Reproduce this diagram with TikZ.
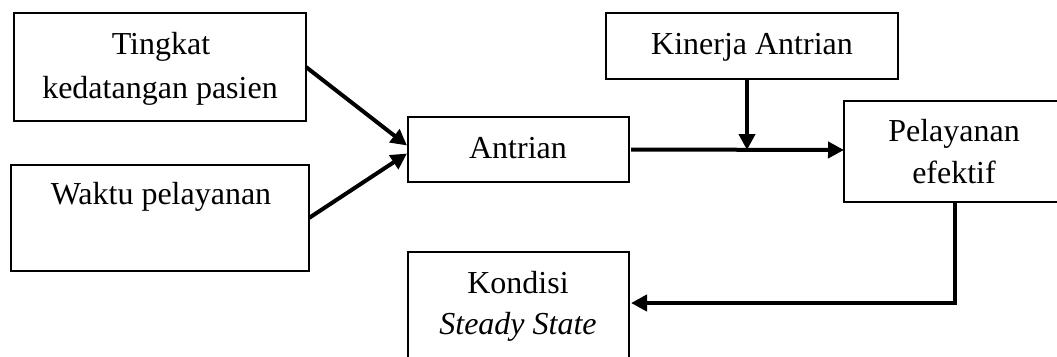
\documentclass[tikz,border=0pt]{standalone}
\usepackage{fontspec}
\setmainfont{Liberation Serif}
\usetikzlibrary{arrows.meta,calc}
\begin{document}
\begin{tikzpicture}[x=1pt,y=-1pt,
  box/.style={draw,line width=1.2pt,inner sep=0pt,outer sep=0pt},
  txt/.style={inner sep=0pt,anchor=base,font=\fontsize{32}{38}\selectfont},
  arr/.style={line width=4pt,-{Triangle[length=16pt,width=16pt]}}]
\useasboundingbox (0,0) rectangle (1057,356);
% boxes
\node[box,minimum width=292pt,minimum height=108pt] (tk) at (160,67) {};
\node[box,minimum width=298pt,minimum height=106pt] (wp) at (160,218) {};
\node[box,minimum width=221pt,minimum height=65pt] (an) at (518.5,149.5) {};
\node[box,minimum width=292pt,minimum height=66pt] (ki) at (752,46) {};
\node[box,minimum width=218pt,minimum height=101pt] (pe) at (953,151.5) {};
\node[box,minimum width=221pt,minimum height=110pt] (ko) at (518.5,307) {};
% labels
\node[txt] (tk1) at (161,54) {Tingkat};
\node[txt] (tk2) at (160,98) {kedatangan pasien};
\node[txt] (wp1) at (161,204) {Waktu pelayanan};
\node[txt] (an1) at (518,158) {Antrian};
\node[txt] (ki1) at (752,54) {Kinerja Antrian};
\node[txt] (pe1) at (954,141) {Pelayanan};
\node[txt] (pe2) at (954,183) {efektif};
\node[txt] (ko1) at (518,293) {Kondisi};
\node[txt] (ko2) at (518,334) {\itshape Steady State};
% connectors
\coordinate (jn) at (747,150);
\coordinate (ky) at (0,303);
\draw[arr] (tk.east) -- ($(an.west)+(-1,-4)$);
\draw[arr] (wp.east) -- ($(an.west)+(-1,4)$);
\draw[arr] ($(an.east)+(2,0)$) -- (pe.west |- jn);
\draw[arr] (ki.south -| jn) -- (jn);
\draw[arr] ($(pe.south)+(2,0)$) |- ($(ko.east |- ky)+(2,0)$);
\end{tikzpicture}
\end{document}
